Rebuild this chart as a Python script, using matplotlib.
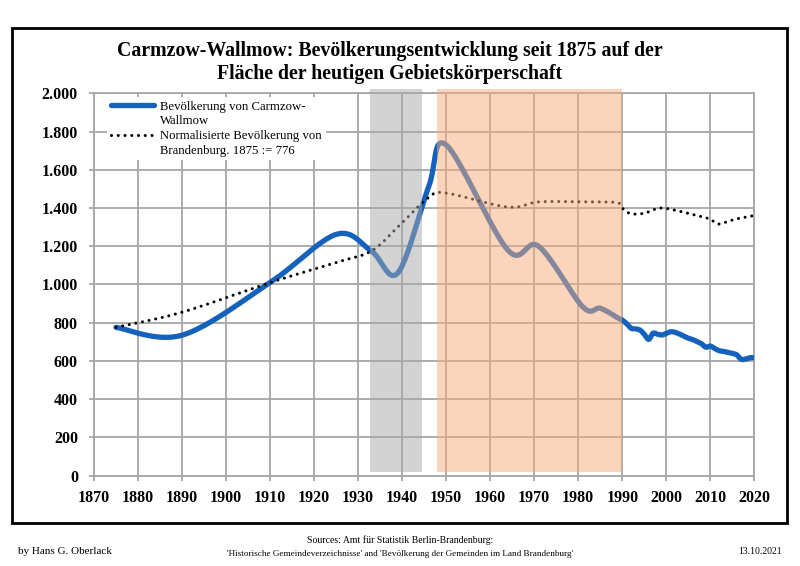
import numpy as np
import matplotlib.pyplot as plt
from matplotlib.patches import Rectangle
from matplotlib.lines import Line2D
from matplotlib.ticker import FuncFormatter

# Carmzow-Wallmow population (census years, then yearly)
years_ort = [1875, 1890, 1910, 1925, 1933, 1939, 1946, 1950, 1964, 1971, 1981, 1985, 1989,
             1990, 1991, 1992, 1993, 1994, 1995, 1996, 1997, 1998, 1999, 2000, 2001, 2002,
             2003, 2004, 2005, 2006, 2007, 2008, 2009, 2010, 2011, 2012, 2013, 2014, 2015,
             2016, 2017, 2018, 2019, 2020]
pop_ort = [776, 735, 1010, 1262, 1175, 1060, 1510, 1730, 1180, 1200, 884, 876, 825,
           814, 795, 771, 768, 762, 740, 713, 745, 740, 736, 745, 753, 750,
           741, 730, 719, 712, 701, 690, 672, 678, 665, 654, 650, 645, 640,
           632, 609, 610, 617, 617]

# Brandenburg, normalised to 1875 := 776
years_bb = years_ort
pop_bb = [776, 855, 1010, 1115, 1175, 1300, 1455, 1478, 1405, 1432, 1432, 1432, 1428,
          1400, 1380, 1370, 1368, 1370, 1372, 1380, 1390, 1398, 1400, 1398, 1393, 1388,
          1383, 1378, 1372, 1366, 1360, 1355, 1348, 1342, 1325, 1316, 1322, 1330, 1337,
          1343, 1348, 1352, 1357, 1360]

x_ticks = list(range(1870, 2021, 10))
y_ticks = list(range(0, 2001, 200))

title = ("Carmzow-Wallmow: Bevölkerungsentwicklung seit 1875 auf der\n"
         "Fläche der heutigen Gebietskörperschaft")
label_ort = ["Bevölkerung von Carmzow-", "Wallmow"]
label_bb = ["Normalisierte Bevölkerung von", "Brandenburg. 1875 := 776"]


def smooth(x, y, n=24):
    # bezier smoothing like the spreadsheet "smoothed line"
    p = np.column_stack([x, y]).astype(float)
    p = np.vstack([p[0], p, p[-1]])
    out = []
    t = np.linspace(0, 1, n)[:, None]
    for i in range(1, len(p) - 2):
        p0, p1, p2, p3 = p[i - 1], p[i], p[i + 1], p[i + 2]
        b1 = p1 + (p2 - p0) / 6
        b2 = p2 - (p3 - p1) / 6
        seg = (1 - t) ** 3 * p1 + 3 * (1 - t) ** 2 * t * b1 + 3 * (1 - t) * t ** 2 * b2 + t ** 3 * p2
        out.append(seg if i == 1 else seg[1:])
    s = np.vstack(out)
    return s[:, 0], s[:, 1]


serif = ['Liberation Serif', 'DejaVu Serif']
plt.rcParams['font.family'] = serif

fig = plt.figure(figsize=(8, 5.66), dpi=100)
ax = fig.add_axes([0.1175, 0.1595, 0.8254, 0.6757])

grid_c = '#A6A6A6'
ax.set_xlim(1870, 2020)
ax.set_ylim(0, 2000)
ax.set_xticks(x_ticks)
ax.set_yticks(y_ticks)
ax.yaxis.set_major_formatter(FuncFormatter(lambda v, p: f"{int(v):,}".replace(',', '.')))
ax.grid(True, color=grid_c, linewidth=1.3, zorder=0)
ax.set_axisbelow(True)
for s in ax.spines.values():
    s.set_color(grid_c)
    s.set_linewidth(1.3)
ax.tick_params(axis='both', color=grid_c, width=1.3, length=3.6, labelsize=11.5)
ax.tick_params(axis='x', pad=6.5)
ax.tick_params(axis='y', pad=8)
for lab in ax.get_xticklabels() + ax.get_yticklabels():
    lab.set_fontweight('bold')

xs, ys = smooth(years_ort, pop_ort)
l1, = ax.plot(xs, ys, color='#1562BE', linewidth=3.8, solid_capstyle='round', zorder=3)
xb, yb = smooth(years_bb, pop_bb)
l2, = ax.plot(xb, yb, color='black', linewidth=2.2, linestyle=(0, (0.01, 2.2)),
              dash_capstyle='round', zorder=3)

# historical periods, drawn over the lines
ax.add_patch(Rectangle((1932.8, 20), 11.6, 2000, facecolor='#A8A8A8', alpha=0.5,
                       edgecolor='none', zorder=4, clip_on=False))
ax.add_patch(Rectangle((1948, 20), 42, 2000, facecolor='#F7AD79', alpha=0.5,
                       edgecolor='none', zorder=4, clip_on=False))

blank = Line2D([], [], linestyle='none')
leg = ax.legend(handles=[l1, blank, l2, blank],
                labels=[label_ort[0], label_ort[1], label_bb[0], label_bb[1]],
                loc='upper left', bbox_to_anchor=(0.02, 0.99),
                borderaxespad=0, frameon=True, fancybox=False, framealpha=1,
                edgecolor='none', fontsize=9.2, handlelength=3.4, handletextpad=0.45,
                labelspacing=0.2, borderpad=0.3)
leg.set_zorder(6)

fig.text(0.487, 0.889, title, ha='center', va='center', fontsize=14.3, fontweight='bold',
         linespacing=1.2)

fig.add_artist(Rectangle((0.015, 0.076), 0.969, 0.8745, transform=fig.transFigure,
                         fill=False, edgecolor='black', linewidth=2))

fig.text(0.022, 0.026, "by Hans G. Oberlack", fontsize=8, va='center', ha='left')
fig.text(0.5, 0.046, "Sources: Amt für Statistik Berlin-Brandenburg:", fontsize=7,
         va='center', ha='center')
fig.text(0.5, 0.021, "'Historische Gemeindeverzeichnisse' and 'Bevölkerung der Gemeinden im Land Brandenburg'",
         fontsize=6.6, va='center', ha='center')
fig.text(0.977, 0.026, "13.10.2021", fontsize=7, va='center', ha='right')

fig.savefig('out.png', dpi=100)
